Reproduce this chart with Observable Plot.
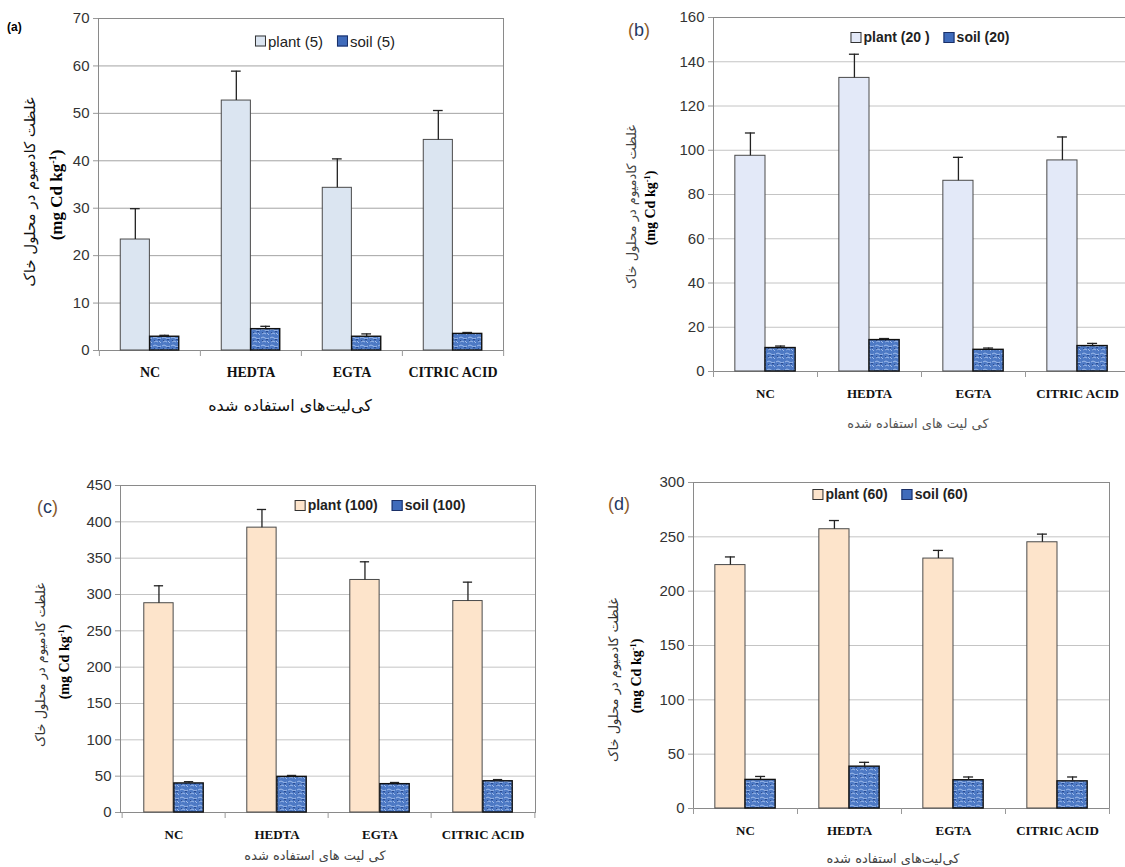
<!DOCTYPE html>
<html>
<head>
<meta charset="utf-8">
<script src="https://cdn.jsdelivr.net/npm/d3@7"></script>
<script src="https://cdn.jsdelivr.net/npm/@observablehq/plot@0.6"></script>
<style>
  html, body { margin: 0; padding: 0; background: #fff; overflow: hidden; }
  #root { position: relative; width: 1125px; height: 867px; overflow: hidden; background: #fff; }
  .pane { position: absolute; }
  .pane svg { max-width: none !important; }
  .lbl { position: absolute; white-space: nowrap; }
  .rot { position: absolute; white-space: nowrap; transform: translate(-50%, -50%) rotate(-90deg); }
  .ctr { position: absolute; white-space: nowrap; transform: translate(-50%, -50%); }
  .fa { font-family: "DejaVu Sans", sans-serif; }
  .mg { font-family: "Liberation Serif", serif; font-weight: bold; }
  .leg { position: absolute; white-space: nowrap; transform: translate(-50%, -50%); font-family: "Liberation Sans", Arial, sans-serif; color: #222; display: flex; align-items: center; }
  .sw { display: inline-block; width: 9px; height: 9px; border: 1px solid #333; margin-right: 2px; }
</style>
</head>
<body>
<div id="root"></div>
<script>
// ---------- data ----------
const categories = ["NC", "HEDTA", "EGTA", "CITRIC ACID"];

// (a) 5
const plantA = [23.4, 52.7, 34.3, 44.4];
const plantErrA = [6.5, 6.2, 6.1, 6.2];
const soilA = [2.9, 4.5, 2.9, 3.5];
const soilErrA = [0.3, 0.6, 0.6, 0.3];
const yTicksA = [0, 10, 20, 30, 40, 50, 60, 70];

// (b) 20
const plantB = [97.5, 132.7, 86.2, 95.4];
const plantErrB = [10.3, 10.7, 10.6, 10.6];
const soilB = [10.6, 14.2, 9.8, 11.5];
const soilErrB = [0.9, 0.7, 0.8, 1.2];
const yTicksB = [0, 20, 40, 60, 80, 100, 120, 140, 160];

// (c) 100
const plantC = [288, 392, 320, 291];
const plantErrC = [24, 25, 25, 26];
const soilC = [40, 49, 39, 43];
const soilErrC = [2.4, 2, 2.3, 2.3];
const yTicksC = [0, 50, 100, 150, 200, 250, 300, 350, 400, 450];

// (d) 60
const plantD = [224, 257, 230, 245];
const plantErrD = [7.5, 8, 7.5, 7.5];
const soilD = [26.3, 38.5, 26, 25];
const soilErrD = [3.2, 4, 3, 4];
const yTicksD = [0, 50, 100, 150, 200, 250, 300];

const legendA = ["plant (5)", "soil (5)"];
const legendB = ["plant (20 )", "soil (20)"];
const legendC = ["plant (100)", "soil (100)"];
const legendD = ["plant (60)", "soil (60)"];

const yTitleFa = "غلظت کادمیوم در محلول خاک";
const xTitleA = "کی‌لیت‌های استفاده شده";
const xTitleB = "کی لیت های استفاده شده";

// ---------- drawing ----------
const root = document.getElementById("root");

function addPattern(svg, id) {
  const s = d3.select(svg);
  const defs = s.insert("defs", ":first-child");
  const p = defs.append("pattern").attr("id", id).attr("patternUnits", "userSpaceOnUse")
    .attr("width", 9).attr("height", 8);
  p.append("rect").attr("width", 9).attr("height", 8).attr("fill", "#4d79c4");
  p.append("path").attr("d", "M0 2 Q2 0 4 2 T8 2 M1 6 Q3 4 5 6 M6 5 L8 7")
    .attr("stroke", "#a9c4ef").attr("stroke-width", 0.9).attr("fill", "none");
  p.append("rect").attr("x", 5).attr("y", 3).attr("width", 2).attr("height", 1.2).attr("fill", "#2a4d94");
  p.append("rect").attr("x", 1).attr("y", 4).attr("width", 1.2).attr("height", 1.2).attr("fill", "#2a4d94");
}

function panel(opt) {
  const {left, top, width, height, mL, mR, mT, mB, plant, plantErr, soil, soilErr, yTicks,
         plantColor, gridColor, id, tickFont, xFont} = opt;
  const data = categories.map((c, i) => ({
    cat: c, plant: plant[i], plantErr: plantErr[i], soil: soil[i], soilErr: soilErr[i]
  }));
  const bw = (width - mL - mR) / categories.length;
  const pc = 0.355 * bw, sc = 0.645 * bw, cap = 5;
  const svg = Plot.plot({
    width, height, marginLeft: mL, marginRight: mR, marginTop: mT, marginBottom: mB,
    style: { fontFamily: "Liberation Sans, Arial, sans-serif", background: "transparent", overflow: "visible" },
    x: { domain: categories, padding: 0, axis: null },
    y: { domain: [yTicks[0], yTicks[yTicks.length - 1]], axis: null },
    marks: [
      Plot.gridY(yTicks, { stroke: gridColor, strokeOpacity: 1, strokeWidth: 1 }),
      Plot.frame({ stroke: "#8a8a8a" }),
      Plot.barY(data, { x: "cat", y: "plant", fill: plantColor, stroke: "#4a4a4a", strokeWidth: 1,
        insetLeft: 0.21 * bw, insetRight: 0.5 * bw }),
      Plot.barY(data, { x: "cat", y: "soil", fill: `url(#${id})`, stroke: "#111", strokeWidth: 1.4,
        insetLeft: 0.5 * bw, insetRight: 0.21 * bw }),
      Plot.ruleX(data, { x: "cat", y1: "plant", y2: d => d.plant + d.plantErr, dx: pc - bw / 2, stroke: "#222", strokeWidth: 1.3 }),
      Plot.tickY(data, { x: "cat", y: d => d.plant + d.plantErr, stroke: "#222", strokeWidth: 1.3,
        insetLeft: pc - cap, insetRight: bw - pc - cap }),
      Plot.ruleX(data, { x: "cat", y1: "soil", y2: d => d.soil + d.soilErr, dx: sc - bw / 2, stroke: "#222", strokeWidth: 1.3 }),
      Plot.tickY(data, { x: "cat", y: d => d.soil + d.soilErr, stroke: "#222", strokeWidth: 1.3,
        insetLeft: sc - cap, insetRight: bw - sc - cap }),
      Plot.axisY(yTicks, { tickSize: 5, tickPadding: 4, fontSize: tickFont, color: "#333", stroke: "#999", label: null }),
      Plot.axisX({ tickSize: 0, tickPadding: 17, fontSize: xFont, fontWeight: "bold",
        fontFamily: "Liberation Serif, serif", color: "#111", label: null }),
      Plot.axisX({ tickSize: 6, text: null, dx: -bw / 2, stroke: "#999", label: null }),
      Plot.axisX([categories[categories.length - 1]], { tickSize: 6, text: null, dx: bw / 2, stroke: "#999", label: null })
    ]
  });
  svg.style.maxWidth = "none";
  svg.style.width = width + "px";
  svg.style.height = height + "px";
  addPattern(svg, id);
  const div = document.createElement("div");
  div.className = "pane";
  div.style.left = left + "px";
  div.style.top = top + "px";
  div.style.width = width + "px";
  div.appendChild(svg);
  root.appendChild(div);
}

function html(cls, text, styles, dir) {
  const el = document.createElement("div");
  el.className = cls;
  if (dir) el.dir = dir;
  el.innerHTML = text;
  Object.assign(el.style, styles);
  root.appendChild(el);
  return el;
}

function legend(items, plantColor, cx, cy, size, weight) {
  const el = html("leg", "", { left: cx + "px", top: cy + "px", fontSize: size + "px", fontWeight: weight });
  el.innerHTML =
    `<span class="sw" style="background:${plantColor}"></span><span>${items[0]}</span>` +
    `<span style="display:inline-block;width:14px"></span>` +
    `<span class="sw" style="background:#3f6bbb;border-color:#1a2f66"></span><span>${items[1]}</span>`;
}

function mgLabel(cx, cy, size) {
  html("rot mg", "(mg Cd kg<sup style='font-size:0.6em'>-1</sup>)", { left: cx + "px", top: cy + "px", fontSize: size + "px" });
}

// Panel (a)
panel({ left: 0, top: 0, width: 520, height: 430, mL: 98, mR: 17, mT: 18, mB: 80,
  plant: plantA, plantErr: plantErrA, soil: soilA, soilErr: soilErrA, yTicks: yTicksA,
  plantColor: "#dbe5f1", gridColor: "#a3a3a3", id: "patA", tickFont: 15, xFont: 14 });
// Panel (b)
panel({ left: 560, top: 0, width: 580, height: 440, mL: 153, mR: 11, mT: 17, mB: 69,
  plant: plantB, plantErr: plantErrB, soil: soilB, soilErr: soilErrB, yTicks: yTicksB,
  plantColor: "#e3e9f8", gridColor: "#c4c4c4", id: "patB", tickFont: 15, xFont: 13 });
// Panel (c)
panel({ left: 0, top: 460, width: 560, height: 407, mL: 120, mR: 25, mT: 25, mB: 55,
  plant: plantC, plantErr: plantErrC, soil: soilC, soilErr: soilErrC, yTicks: yTicksC,
  plantColor: "#fde4cb", gridColor: "#c4c4c4", id: "patC", tickFont: 15, xFont: 13 });
// Panel (d)
panel({ left: 580, top: 460, width: 545, height: 407, mL: 113, mR: 16, mT: 22, mB: 59,
  plant: plantD, plantErr: plantErrD, soil: soilD, soilErr: soilErrD, yTicks: yTicksD,
  plantColor: "#fde4cb", gridColor: "#c4c4c4", id: "patD", tickFont: 15, xFont: 13 });

// panel letters
html("lbl", "(a)", { left: "7px", top: "20px", fontSize: "12px", fontWeight: "bold", fontFamily: "Liberation Sans, Arial" });
html("lbl", "<span style='color:#8a5a2b'>(</span>b<span style='color:#8a5a2b'>)</span>", { left: "628px", top: "20px", fontSize: "18px", color: "#1f3864", fontFamily: "Liberation Sans, Arial" });
html("lbl", "<span style='color:#8a5a2b'>(</span>c<span style='color:#8a5a2b'>)</span>", { left: "37px", top: "497px", fontSize: "18px", color: "#1f3864", fontFamily: "Liberation Sans, Arial" });
html("lbl", "<span style='color:#8a5a2b'>(</span>d<span style='color:#8a5a2b'>)</span>", { left: "608px", top: "494px", fontSize: "18px", color: "#1f3864", fontFamily: "Liberation Sans, Arial" });

// legends
legend(legendA, "#dbe5f1", 325, 41, 15, "normal");
legend(legendB, "#e3e9f8", 930, 37, 14, "bold");
legend(legendC, "#fde4cb", 380, 505, 14, "bold");
legend(legendD, "#fde4cb", 890, 494, 14, "bold");

// y titles
html("rot fa", yTitleFa, { left: "30px", top: "192px", fontSize: "15px", color: "#111" }, "rtl");
mgLabel(57, 195, 17);
html("rot fa", yTitleFa, { left: "631px", top: "207px", fontSize: "13px", color: "#444" }, "rtl");
mgLabel(651, 208, 14);
html("rot fa", yTitleFa, { left: "40px", top: "665px", fontSize: "13px", color: "#333" }, "rtl");
mgLabel(65, 662, 14);
html("rot fa", yTitleFa, { left: "613px", top: "680px", fontSize: "13px", color: "#333" }, "rtl");
mgLabel(637, 676, 14);

// x titles
html("ctr fa", xTitleA, { left: "290px", top: "405px", fontSize: "16px", color: "#111" }, "rtl");
html("ctr fa", xTitleB, { left: "918px", top: "423px", fontSize: "13px", color: "#555" }, "rtl");
html("ctr fa", xTitleB, { left: "315px", top: "855px", fontSize: "13px", color: "#444" }, "rtl");
html("ctr fa", xTitleA, { left: "893px", top: "858px", fontSize: "13px", color: "#444" }, "rtl");
</script>
</body>
</html>
